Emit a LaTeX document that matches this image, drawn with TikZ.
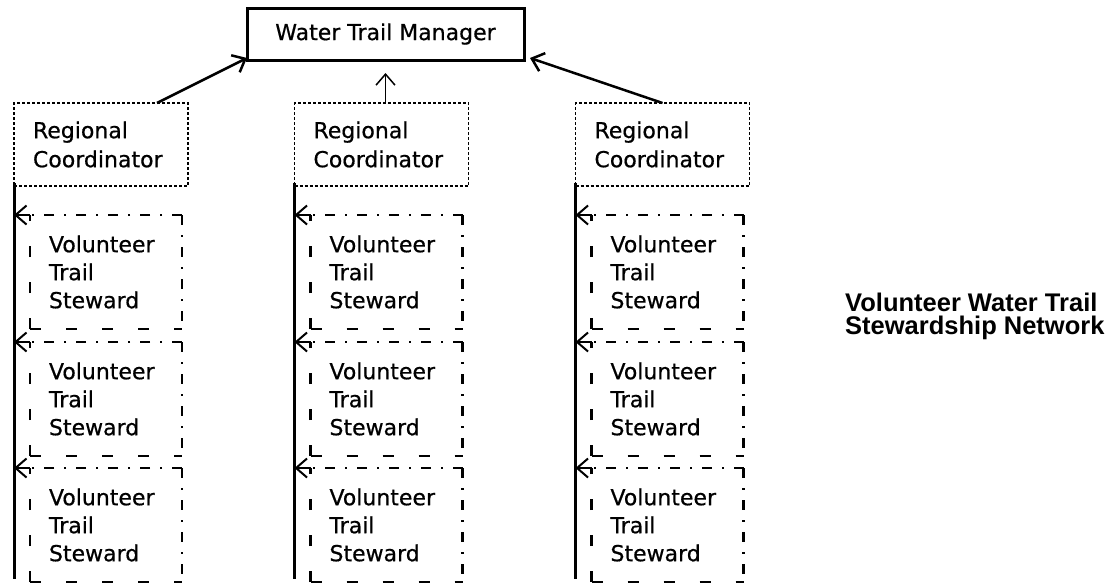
\documentclass[tikz,border=0pt]{standalone}
\usepackage{fontspec}
\setmainfont{DejaVu Sans}[FakeBold=0.6]
\newfontfamily\headfont{Liberation Sans}
\usetikzlibrary{arrows.meta,positioning}

\begin{document}
\begin{tikzpicture}[x=1pt,y=-1pt,
  mgr/.style={draw,line width=3pt,minimum width=277pt,minimum height=52pt,inner sep=0pt,outer sep=0pt,font=\fontsize{22}{29}\selectfont},
  rc/.style={draw,line width=1.8pt,dash pattern=on 3pt off 2pt,minimum width=174pt,minimum height=83pt,text width=136pt,inner xsep=19pt,inner ysep=0pt,outer sep=0pt,align=left,font=\fontsize{22}{29}\selectfont},
  vts/.style={minimum height=114pt,text width=114pt,inner xsep=19pt,inner ysep=0pt,outer sep=0pt,align=left,font=\fontsize{22}{28}\selectfont},
  longdash/.style={line width=2.2pt,dash pattern=on 11pt off 25pt},
  dotdash/.style={line width=2.2pt,dash pattern=on 10pt off 10pt on 2pt off 10pt},
  spine/.style={line width=3pt},
  >={Straight Barb[length=11pt,width=19pt]},node distance=13pt]
\useasboundingbox (0,0) rectangle (1113,584);
\node[mgr] (mgr) at (385.5,34) {Water Trail Manager};
\node[rc] (rc1) at (101,144.5) {Regional\\Coordinator};
\node[rc] (rc2) at (381.5,144.5) {Regional\\Coordinator};
\node[rc] (rc3) at (662.5,144.5) {Regional\\Coordinator};
\draw[->,line width=2.5pt] ([xshift=56pt]rc1.north) -- ([yshift=2pt]mgr.south west);
\draw[->,line width=1.5pt,shorten >=13pt] (mgr.south |- rc2.north) -- (mgr.south);
\draw[->,line width=2.5pt] (rc3.north) -- ([xshift=6pt,yshift=2pt]mgr.south east);
% stewards under each coordinator
\node[vts,below right=29pt and 16pt of rc1.south west] (v11) {Volunteer\\Trail\\Steward};
\node[vts,below=of v11] (v12) {Volunteer\\Trail\\Steward};
\node[vts,below=12pt of v12] (v13) {Volunteer\\Trail\\Steward};
\node[vts,below right=29pt and 16pt of rc2.south west] (v21) {Volunteer\\Trail\\Steward};
\node[vts,below=of v21] (v22) {Volunteer\\Trail\\Steward};
\node[vts,below=12pt of v22] (v23) {Volunteer\\Trail\\Steward};
\node[vts,below right=29pt and 16pt of rc3.south west] (v31) {Volunteer\\Trail\\Steward};
\node[vts,below=of v31] (v32) {Volunteer\\Trail\\Steward};
\node[vts,below=12pt of v32] (v33) {Volunteer\\Trail\\Steward};
\draw[spine] ([yshift=3pt]rc1.south west) -- ([yshift=3pt]rc1.south west |- v13.south);
\draw[spine] ([yshift=3pt]rc2.south west) -- ([yshift=3pt]rc2.south west |- v23.south);
\draw[spine] ([yshift=3pt]rc3.south west) -- ([yshift=3pt]rc3.south west |- v33.south);
\foreach \v/\r in {v11/rc1,v12/rc1,v13/rc1,v21/rc2,v22/rc2,v23/rc2,v31/rc3,v32/rc3,v33/rc3}{
  \draw[longdash] (\v.south west) -- (\v.north west);
  \draw[longdash] (\v.south west) -- (\v.south east);
  \draw[dotdash] (\v.north east) -- (\v.south east);
  \draw[dotdash] (\v.north east) -- (\v.north west);
  \draw[->,line width=2pt] (\v.north west) -- (\v.north west -| \r.west);
}
\node[font=\fontsize{25.5}{23}\selectfont\headfont\bfseries,align=left,anchor=west,inner sep=0pt] (title) at (845,316) {Volunteer Water Trail\\Stewardship Network};
\end{tikzpicture}
\end{document}
